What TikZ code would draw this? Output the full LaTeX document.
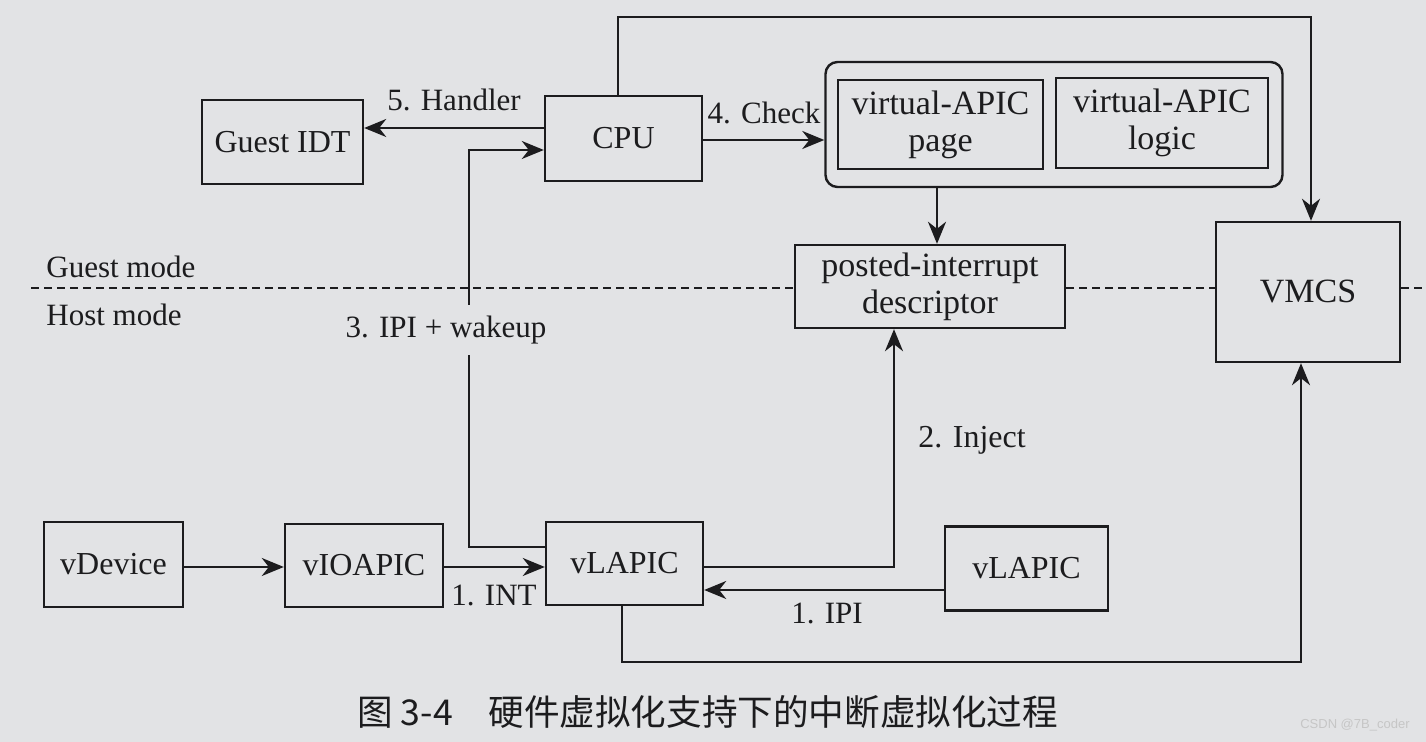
\documentclass[tikz,border=0pt]{standalone}
\usepackage{fontspec}
\setmainfont{Liberation Serif}
\newfontfamily\cjk{Noto Sans CJK SC}
\newfontfamily\wmfont{Liberation Sans}
\usetikzlibrary{arrows.meta}

\definecolor{paper}{RGB}{226,227,229}
\definecolor{ink}{RGB}{28,28,30}

\tikzset{
  box/.style={draw=ink, line width=1.2pt, inner sep=0pt, text=ink,
              font=\fontsize{16}{17}\selectfont, align=center},
  bigbox/.style={box, font=\fontsize{17}{18.5}\selectfont},
  lbl/.style={text=ink, inner sep=0pt, font=\fontsize{15.5}{16.5}\selectfont},
  arr/.style={draw=ink, line width=1.15pt,
              -{Stealth[length=11pt,width=9pt,inset=3.5pt]}},
  modeline/.style={draw=ink, line width=1pt, dash pattern=on 4pt off 2.5pt},
}

\begin{document}
\begin{tikzpicture}[x=0.5pt, y=-0.5pt]
  \fill[paper] (0,0) rectangle (1426,742);
  \useasboundingbox (0,0) rectangle (1426,742);

  % guest side
  \node[box, minimum width=80.5pt, minimum height=42pt] (gidt) at (282.5,142) {Guest IDT};
  \node[box, minimum width=78.5pt, minimum height=42.5pt] (cpu) at (623.5,138.5) {CPU};
  \node[box, rounded corners=6pt, minimum width=228.5pt, minimum height=62.5pt] (apic) at (1054,124.5) {};
  \node[bigbox, minimum width=102.5pt, minimum height=44.5pt] (page) at (940.5,124.5) {virtual-APIC\\page};
  \node[bigbox, minimum width=106pt, minimum height=45pt] (logic) at (1162,123) {virtual-APIC\\logic};
  \node[bigbox, minimum width=135pt, minimum height=41.5pt] (pid) at (930,286.5) {posted-interrupt\\descriptor};
  \node[bigbox, minimum width=92pt, minimum height=70pt] (vmcs) at (1308,292) {VMCS};

  % host side
  \node[box, minimum width=69.5pt, minimum height=42.5pt] (vdev) at (113.5,564.5) {vDevice};
  \node[box, minimum width=79pt, minimum height=41.5pt] (vioapic) at (364,565.5) {vIOAPIC};
  \node[box, minimum width=78.5pt, minimum height=41.5pt] (vlapic) at (624.5,563.5) {vLAPIC};
  \node[box, minimum width=81.5pt, minimum height=42pt] (vlapic2) at (1026.5,568.5) {vLAPIC};

  % guest / host boundary
  \coordinate (dl) at (31,288);
  \coordinate (dr) at (1426,288);
  \draw[modeline] (dl) -- (dl -| pid.west);
  \draw[modeline] (dl -| pid.east) -- (dl -| vmcs.west);
  \draw[modeline] (dl -| vmcs.east) -- (dr);
  \node[lbl, anchor=west] (gm) at (46,267) {Guest mode};
  \node[lbl, anchor=west] (hm) at (46,315) {Host mode};

  % interrupt delivery inside the guest
  \coordinate (h5) at (0,128);
  \draw[arr] (h5 -| cpu.west) -- (h5 -| gidt.east);
  \node[lbl] (l5) at (454,100) {5. Handler};

  \coordinate (c4) at (0,140);
  \draw[arr] (c4 -| cpu.east) -- (c4 -| apic.west);
  \node[lbl] (l4) at (764,113) {4. Check};

  \coordinate (a4) at (937,0);
  \draw[arr] (a4 |- apic.south) -- (a4 |- pid.north);

  % CPU to VMCS
  \coordinate (t1) at (618,17);
  \coordinate (t2) at (1311,17);
  \draw[arr] (t1 |- cpu.north) -- (t1) -- (t2) -- (t2 |- vmcs.north);

  % IPI + wakeup
  \coordinate (w3) at (469,547);
  \coordinate (w3top) at (469,150);
  \draw[arr] (w3 -| vlapic.west) -- (w3) -- (w3top) -- (w3top -| cpu.west);
  \node[lbl, fill=paper, minimum height=25pt, inner xsep=1pt] (l3) at (446,330) {3. IPI + wakeup};

  % device interrupt path
  \coordinate (d1) at (0,567);
  \draw[arr] (d1 -| vdev.east) -- (d1 -| vioapic.west);
  \draw[arr] (d1 -| vioapic.east) -- (d1 -| vlapic.west);
  \node[lbl] (l1) at (494,595) {1. INT};

  % inject into the posted-interrupt descriptor
  \coordinate (i2) at (894,567);
  \draw[arr] (i2 -| vlapic.east) -- (i2) -- (i2 |- pid.south);
  \node[lbl, font=\fontsize{16}{17}\selectfont] (l2) at (972,440) {2. Inject};

  % IPI from another vLAPIC
  \coordinate (p1) at (0,590);
  \draw[arr] (p1 -| vlapic2.west) -- (p1 -| vlapic.east);
  \node[lbl] (l1b) at (827,613) {1. IPI};

  % vLAPIC to VMCS
  \coordinate (b1) at (622,662);
  \coordinate (b2) at (1301,662);
  \draw[arr] (b1 |- vlapic.south) -- (b1) -- (b2) -- (b2 |- vmcs.south);

  % caption
  \node[anchor=west, inner sep=0pt, text=ink, font=\cjk\fontsize{17.8}{18}\selectfont] (cap) at (357,712)
    {图 3-4\hspace{1em}硬件虚拟化支持下的中断虚拟化过程};
  \node[anchor=east, inner sep=0pt, text=white!55!gray, font=\wmfont\fontsize{6.5}{7}\selectfont] (wm) at (1410,725)
    {CSDN @7B\_coder};
\end{tikzpicture}
\end{document}
